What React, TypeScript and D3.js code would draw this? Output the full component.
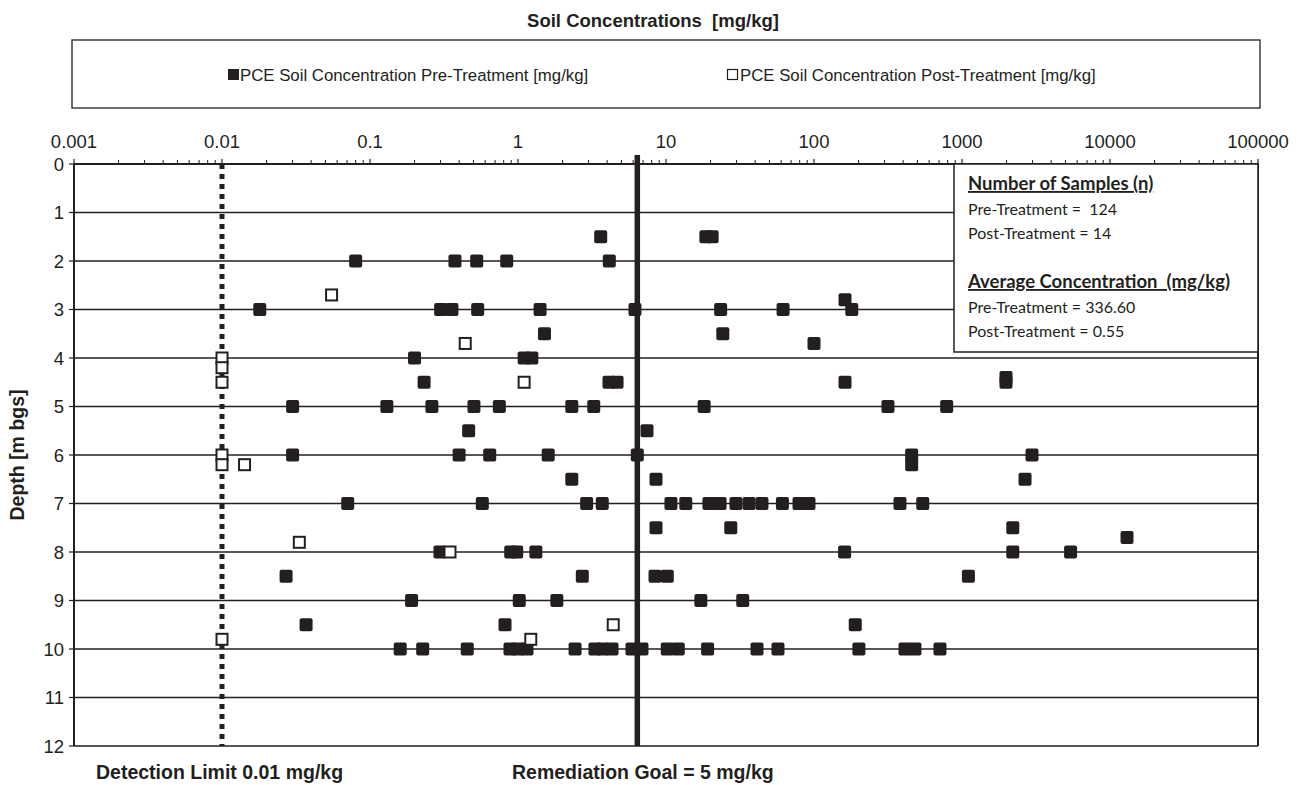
import React from 'react';
import * as d3 from 'd3';

// tick values of the log concentration axis (top) and depth axis (left)
const concTicks = [0.001, 0.01, 0.1, 1, 10, 100, 1000, 10000, 100000];
const concTickLabels = ['0.001', '0.01', '0.1', '1', '10', '100', '1000', '10000', '100000'];
const depthTicks = [0, 1, 2, 3, 4, 5, 6, 7, 8, 9, 10, 11, 12];

// [depth m, concentration mg/kg]
const preTreatment: [number, number][] = [
  [1.5, 3.62], [1.5, 18.6], [1.5, 20.5],
  [2, 0.08], [2, 0.375], [2, 0.526], [2, 0.839], [2, 4.14],
  [2.8, 162],
  [3, 0.018], [3, 0.3], [3, 0.358], [3, 0.534], [3, 1.41], [3, 6.17], [3, 23.4], [3, 61.8], [3, 180],
  [3.5, 1.51], [3.5, 24.2],
  [3.7, 100],
  [4, 0.2], [4, 1.1], [4, 1.24],
  [4.4, 1983],
  [4.5, 0.232], [4.5, 4.12], [4.5, 4.67], [4.5, 162], [4.5, 1983],
  [5, 0.03], [5, 0.13], [5, 0.262], [5, 0.504], [5, 0.748], [5, 2.31], [5, 3.25], [5, 18.1], [5, 316], [5, 788],
  [5.5, 0.464], [5.5, 7.44],
  [6, 0.03], [6, 0.4], [6, 0.644], [6, 1.6], [6, 6.4], [6, 457], [6, 2972],
  [6.2, 457],
  [6.5, 2.31], [6.5, 8.56], [6.5, 2666],
  [7, 0.0707], [7, 0.574], [7, 2.91], [7, 3.71], [7, 10.8], [7, 13.6], [7, 19.5], [7, 23.2], [7, 29.7],
  [7, 36.4], [7, 44.5], [7, 61.2], [7, 79.2], [7, 92.5], [7, 381], [7, 543],
  [7.5, 8.56], [7.5, 27.4], [7.5, 2204],
  [7.7, 13030],
  [8, 0.297], [8, 0.893], [8, 0.98], [8, 1.32], [8, 161], [8, 2204], [8, 5417],
  [8.5, 0.0271], [8.5, 2.72], [8.5, 8.43], [8.5, 10.2], [8.5, 1105],
  [9, 0.191], [9, 1.02], [9, 1.83], [9, 17.2], [9, 33.0],
  [9.5, 0.037], [9.5, 0.817], [9.5, 190],
  [10, 0.16], [10, 0.227], [10, 0.454], [10, 0.883], [10, 1.0], [10, 1.15], [10, 2.43], [10, 3.31],
  [10, 3.75], [10, 4.32], [10, 5.89], [10, 6.88], [10, 10.2], [10, 12.1], [10, 19.1], [10, 41.2],
  [10, 57.1], [10, 201], [10, 412], [10, 481], [10, 710],
];

const postTreatment: [number, number][] = [
  [2.7, 0.055], [3.7, 0.44], [4, 0.01], [4.2, 0.01], [4.5, 0.01], [4.5, 1.1],
  [6, 0.01], [6.2, 0.01], [6.2, 0.0142], [7.8, 0.0333], [8, 0.347], [9.5, 4.4],
  [9.8, 0.01], [9.8, 1.22],
];

const detectionLimit = 0.01;
const goalLineAt = 6.4; // where the goal line sits on the printed chart

const infoLines = [
  { text: 'Number of Samples (n)', head: true },
  { text: 'Pre-Treatment =  124', head: false },
  { text: 'Post-Treatment = 14', head: false },
  { text: '', head: false },
  { text: 'Average Concentration  (mg/kg)', head: true },
  { text: 'Pre-Treatment = 336.60', head: false },
  { text: 'Post-Treatment = 0.55', head: false },
];

const ink = '#231f20';
const sans = '"Liberation Sans", Arial, sans-serif';
const pre = { whiteSpace: 'pre' as const };

export default function App() {
  const W = 1303;
  const H = 785;
  const m = { left: 74, right: 1258, top: 164, bottom: 746 };

  const x = d3.scaleLog().domain([0.001, 100000]).range([m.left, m.right]);
  const y = d3.scaleLinear().domain([0, 12]).range([m.top, m.bottom]);

  // minor ticks 2..9 per decade
  const minor: number[] = [];
  for (let e = -3; e < 5; e++) {
    for (let k = 2; k <= 9; k++) minor.push(k * Math.pow(10, e));
  }

  const sq = 13;
  const boxX = 954;

  return (
    <svg width={W} height={H} style={{ position: 'absolute', left: 0, top: 0, background: '#fff' }}>
      <rect width={W} height={H} fill="#fff" />
      <text x={653} y={27} textAnchor="middle" fontFamily={sans} fontWeight="bold" fontSize={18.5} fill={ink} style={pre}>
        {'Soil Concentrations  [mg/kg]'}
      </text>

      {/* legend */}
      <rect x={72} y={40} width={1188} height={68} fill="#fff" stroke={ink} strokeWidth={1.3} />
      <rect x={228} y={69} width={11} height={11} fill={ink} />
      <text x={240} y={81} fontFamily={sans} fontSize={16.8} fill={ink}>PCE Soil Concentration Pre-Treatment [mg/kg]</text>
      <rect x={727.5} y={69.5} width={10} height={10} fill="#fff" stroke={ink} strokeWidth={1.2} />
      <text x={740} y={81} fontFamily={sans} fontSize={16.8} fill={ink}>PCE Soil Concentration Post-Treatment [mg/kg]</text>

      {/* horizontal grid lines */}
      {depthTicks.map(d => (
        <line key={'g' + d} x1={m.left} x2={m.right} y1={y(d)} y2={y(d)} stroke={ink} strokeWidth={d === 0 ? 2 : 1.5} />
      ))}
      <line x1={m.left} x2={m.left} y1={m.top} y2={m.bottom} stroke={ink} strokeWidth={2} />
      <line x1={m.right} x2={m.right} y1={m.top} y2={m.bottom} stroke={ink} strokeWidth={2} />

      {/* top axis ticks */}
      {minor.map((v, i) => (
        <line key={'mt' + i} x1={x(v)} x2={x(v)} y1={m.top} y2={m.top - 4} stroke={ink} strokeWidth={1} />
      ))}
      {concTicks.map((v, i) => (
        <g key={'ct' + i}>
          <line x1={x(v)} x2={x(v)} y1={m.top} y2={m.top - 5} stroke={ink} strokeWidth={1.2} />
          <text x={x(v)} y={148} textAnchor="middle" fontFamily={sans} fontSize={18.5} fill={ink}>{concTickLabels[i]}</text>
        </g>
      ))}

      {/* depth axis */}
      {depthTicks.map(d => (
        <g key={'dt' + d}>
          <line x1={m.left - 5} x2={m.left} y1={y(d)} y2={y(d)} stroke={ink} strokeWidth={1.2} />
          <text x={m.left - 10} y={y(d) + 6.5} textAnchor="end" fontFamily={sans} fontSize={18.5} fill={ink}>{d}</text>
        </g>
      ))}
      <text transform={`translate(24,${(m.top + m.bottom) / 2}) rotate(-90)`} textAnchor="middle"
        fontFamily={sans} fontWeight="bold" fontSize={19.5} fill={ink}>Depth [m bgs]</text>

      {/* detection limit and remediation goal */}
      <line x1={x(detectionLimit)} x2={x(detectionLimit)} y1={m.top} y2={m.bottom} stroke={ink}
        strokeWidth={5} strokeDasharray="5,5" />
      <line x1={x(goalLineAt)} x2={x(goalLineAt)} y1={155} y2={m.bottom} stroke={ink} strokeWidth={5.5} />

      {/* points */}
      {preTreatment.map(([d, c], i) => (
        <rect key={'p' + i} x={x(c) - sq / 2} y={y(d) - sq / 2} width={sq} height={sq} rx={2} fill={ink} />
      ))}
      {postTreatment.map(([d, c], i) => (
        <rect key={'q' + i} x={x(c) - 5.5} y={y(d) - 5.5} width={11} height={11} fill="#fff" stroke={ink} strokeWidth={2} />
      ))}

      {/* info box */}
      <rect x={boxX} y={m.top} width={m.right - boxX} height={188} fill="#fff" stroke={ink} strokeWidth={1.5} />
      {infoLines.map((l, i) => (
        <text key={'i' + i} x={968} y={190 + i * 24.5} fontFamily="Lato, 'Open Sans', sans-serif"
          fontSize={l.head ? 18.5 : 16} fontWeight={l.head ? 'bold' : 'normal'}
          textDecoration={l.head ? 'underline' : 'none'} fill={ink} style={pre}>
          {l.text}
        </text>
      ))}

      <text x={96} y={779} fontFamily={sans} fontWeight="bold" fontSize={19.5} fill={ink}>Detection Limit 0.01 mg/kg</text>
      <text x={512} y={779} fontFamily={sans} fontWeight="bold" fontSize={19.5} fill={ink}>Remediation Goal = 5 mg/kg</text>
    </svg>
  );
}
